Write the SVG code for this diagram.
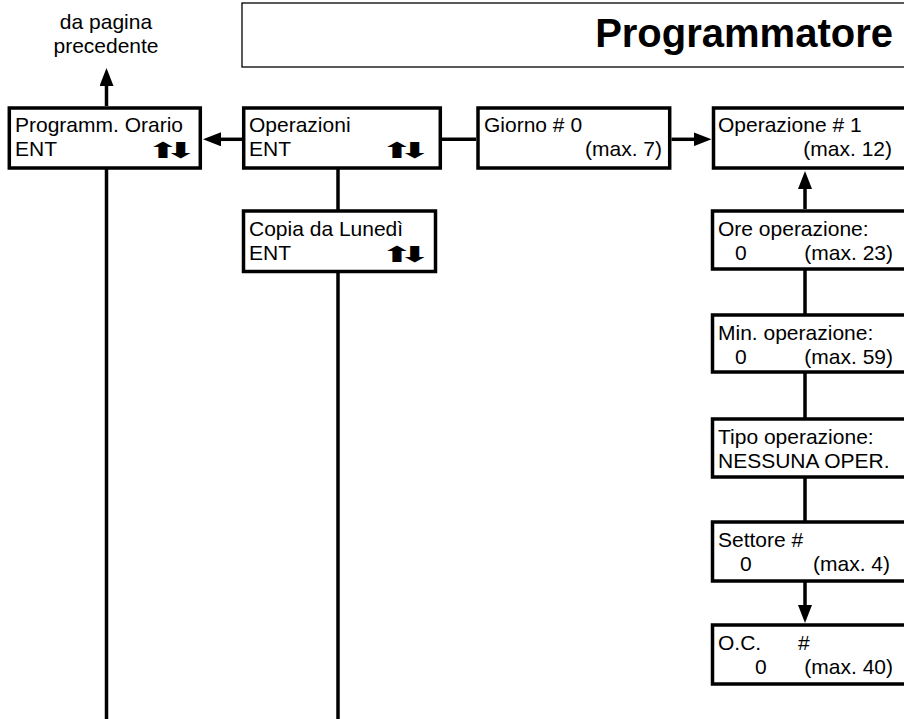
<svg xmlns="http://www.w3.org/2000/svg" width="904" height="719" viewBox="0 0 904 719">
<style>
.box{fill:#fff;stroke:#000;stroke-width:3.5}
.t{font-family:"Liberation Sans",Arial,sans-serif;font-size:21px;fill:#000}
.ar{font-family:"DejaVu Sans",sans-serif;font-size:22px;fill:#000;letter-spacing:-8.6px}
.c{stroke:#000;stroke-width:3.5;fill:none}
.ca{stroke:#000;stroke-width:3.5;fill:none;marker-end:url(#ah)}
</style>
<defs>
<marker id="ah" markerUnits="userSpaceOnUse" markerWidth="18" markerHeight="14" viewBox="0 0 18 14" refX="8" refY="7" orient="auto">
<path d="M0,0 L18,7 L0,14 z" fill="#000"/>
</marker>
</defs>
<rect width="904" height="719" fill="#fff"/>

<g id="title">
<rect x="242" y="3" width="700" height="64" fill="#fff" stroke="#000" stroke-width="1.3"/>
<text x="893" y="47" text-anchor="end" style="font-family:'Liberation Sans',Arial,sans-serif;font-weight:bold;font-size:40px">Programmatore</text>
</g>

<g id="from-prev">
<text class="t" x="106" y="29" text-anchor="middle">da pagina</text>
<text class="t" x="106" y="53" text-anchor="middle">precedente</text>
</g>

<g id="connectors">
<line class="ca" x1="106.5" y1="106" x2="106.5" y2="78"/>
<line class="c" x1="106.5" y1="169" x2="106.5" y2="719"/>
<line class="ca" x1="242" y1="139.3" x2="213" y2="139.3"/>
<line class="c" x1="442" y1="139.3" x2="476" y2="139.3"/>
<line class="ca" x1="671.5" y1="139.3" x2="701.5" y2="139.3"/>
<line class="c" x1="338" y1="169" x2="338" y2="210"/>
<line class="c" x1="338" y1="272" x2="338" y2="719"/>
<line class="ca" x1="805" y1="209" x2="805" y2="181"/>
<line class="c" x1="805" y1="269" x2="805" y2="315"/>
<line class="c" x1="805" y1="372" x2="805" y2="419"/>
<line class="c" x1="805" y1="477" x2="805" y2="522"/>
<line class="ca" x1="805" y1="581" x2="805" y2="613"/>
</g>

<g id="programm-orario">
<rect class="box" x="9.3" y="108" width="191" height="60"/>
<text class="t" x="15" y="132">Programm. Orario</text>
<text class="t" x="15" y="156">ENT</text>
<text class="ar" transform="translate(146,158) scale(1.8,1)">⬆⬇</text>
</g>

<g id="operazioni">
<rect class="box" x="243.7" y="108" width="196.6" height="60"/>
<text class="t" x="249" y="132">Operazioni</text>
<text class="t" x="249" y="156">ENT</text>
<text class="ar" transform="translate(380,158) scale(1.8,1)">⬆⬇</text>
</g>

<g id="giorno">
<rect class="box" x="478" y="108" width="191.7" height="60"/>
<text class="t" x="484" y="132">Giorno # 0</text>
<text class="t" x="662" y="156" text-anchor="end">(max. 7)</text>
</g>

<g id="operazione">
<rect class="box" x="713.5" y="108" width="200" height="60"/>
<text class="t" x="718" y="132">Operazione # 1</text>
<text class="t" x="892" y="156" text-anchor="end">(max. 12)</text>
</g>

<g id="copia">
<rect class="box" x="243.5" y="211" width="192" height="60.5"/>
<text class="t" x="249" y="236">Copia da Lunedì</text>
<text class="t" x="249" y="260">ENT</text>
<text class="ar" transform="translate(380,262) scale(1.8,1)">⬆⬇</text>
</g>

<g id="ore">
<rect class="box" x="712.5" y="211" width="200" height="58"/>
<text class="t" x="718" y="236">Ore operazione:</text>
<text class="t" x="735" y="260">0</text>
<text class="t" x="893" y="260" text-anchor="end">(max. 23)</text>
</g>

<g id="min">
<rect class="box" x="712.5" y="315" width="200" height="57"/>
<text class="t" x="718" y="340">Min. operazione:</text>
<text class="t" x="735" y="364">0</text>
<text class="t" x="893" y="364" text-anchor="end">(max. 59)</text>
</g>

<g id="tipo">
<rect class="box" x="712.5" y="419" width="200" height="58"/>
<text class="t" x="718" y="444">Tipo operazione:</text>
<text class="t" x="718" y="468">NESSUNA OPER.</text>
</g>

<g id="settore">
<rect class="box" x="712.5" y="522" width="200" height="59"/>
<text class="t" x="718" y="547">Settore #</text>
<text class="t" x="740" y="571">0</text>
<text class="t" x="890" y="571" text-anchor="end">(max. 4)</text>
</g>

<g id="oc">
<rect class="box" x="712.5" y="625" width="200" height="59"/>
<text class="t" x="718" y="650">O.C.</text>
<text class="t" x="798" y="650">#</text>
<text class="t" x="755" y="674">0</text>
<text class="t" x="893" y="674" text-anchor="end">(max. 40)</text>
</g>
</svg>
